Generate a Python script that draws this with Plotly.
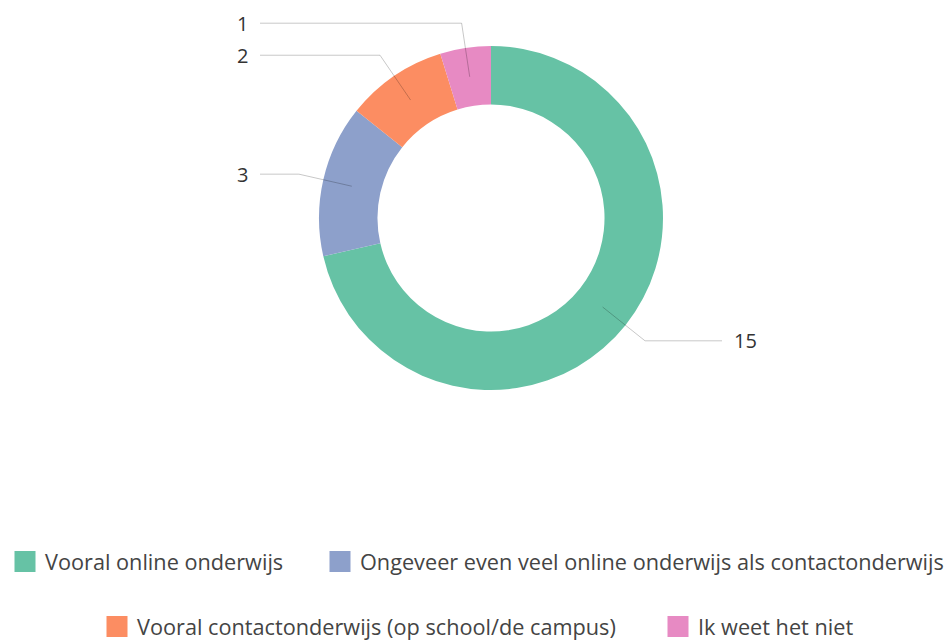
import math
import plotly.graph_objects as go

categories = [
    "Vooral online onderwijs",
    "Ongeveer even veel online onderwijs als contactonderwijs",
    "Vooral contactonderwijs (op school/de campus)",
    "Ik weet het niet",
]
values = [15, 3, 2, 1]
colors = ["#66c2a5", "#8da0cb", "#fc8d62", "#e78ac3"]

W, H = 948, 641
CX, CY, R = 491, 218, 172
HOLE = 0.66
FONT = "Open Sans"
TEXT_COLOR = "#333333"

fig = go.Figure()

fig.add_trace(go.Pie(
    labels=categories,
    values=values,
    marker=dict(colors=colors, line=dict(width=0)),
    hole=HOLE,
    sort=False,
    direction="clockwise",
    rotation=0,
    textinfo="none",
    hoverinfo="label+value",
    showlegend=False,
    domain=dict(x=[(CX - R) / W, (CX + R) / W],
                y=[1 - (CY + R) / H, 1 - (CY - R) / H]),
))

# Leader lines and value labels derived from the data
total = sum(values)
cum = 0
r_mid = R * (1 + HOLE) / 2
r_elb = R + 25
h_end = 231
shapes = []
annotations = []
px = lambda x: x / W
py = lambda y: 1 - y / H
for v in values:
    mid = (cum + v / 2) / total * 2 * math.pi
    cum += v
    s, c = math.sin(mid), math.cos(mid)
    x0, y0 = CX + r_mid * s, CY - r_mid * c
    x1, y1 = CX + r_elb * s, CY - r_elb * c
    right = s >= 0
    x2 = CX + h_end if right else CX - h_end
    shapes.append(dict(
        type="path", xref="paper", yref="paper",
        path=f"M{px(x0)},{py(y0)} L{px(x1)},{py(y1)} L{px(x2)},{py(y1)}",
        line=dict(color="rgba(0,0,0,0.22)", width=1),
    ))
    annotations.append(dict(
        x=px(x2), y=py(y1), xref="paper", yref="paper",
        text=str(v), showarrow=False,
        xanchor="left" if right else "right", yanchor="middle",
        xshift=10 if right else -10,
        font=dict(family=FONT, size=20, color=TEXT_COLOR),
    ))

# Legend: one legend per entry so rows are centred like the reference
legend_pos = [(10 / W, 1 - 562 / H), (325 / W, 1 - 562 / H),
              (102 / W, 1 - 627 / H), (663 / W, 1 - 627 / H)]
legend_names = ["legend", "legend2", "legend3", "legend4"]
for name, col, lg in zip(categories, colors, legend_names):
    fig.add_trace(go.Scatter(
        x=[None], y=[None], mode="markers", name=name,
        marker=dict(symbol="square", size=16, color=col,
                    line=dict(color=col, width=5)),
        legend=lg, showlegend=True, hoverinfo="skip",
    ))

layout_legends = {}
for lg, (lx, ly) in zip(legend_names, legend_pos):
    layout_legends[lg] = dict(
        x=lx - 5 / W, y=ly, xanchor="left", yanchor="middle",
        orientation="h", bgcolor="rgba(0,0,0,0)",
        font=dict(family=FONT, size=21.7, color="#444444"),
        itemclick=False, itemdoubleclick=False,
    )

fig.update_layout(
    width=W, height=H,
    margin=dict(l=0, r=0, t=0, b=0, autoexpand=False),
    paper_bgcolor="white", plot_bgcolor="white",
    xaxis=dict(visible=False), yaxis=dict(visible=False),
    shapes=shapes, annotations=annotations,
    **layout_legends,
)

fig.write_html("out.html")
